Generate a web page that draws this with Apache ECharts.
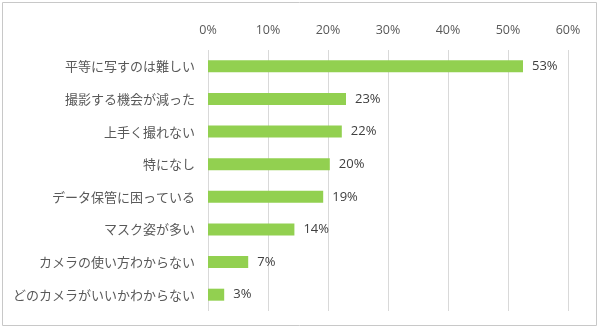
<!DOCTYPE html>
<html><head><meta charset="utf-8">
<script src="https://cdn.jsdelivr.net/npm/echarts@6/dist/echarts.min.js"></script>
<style>html,body{margin:0;padding:0;background:#fff}#c{width:600px;height:330px}</style>
</head><body><div id="c"></div>
<script>
const categories = ['平等に写すのは難しい','撮影する機会が減った','上手く撮れない','特になし','データ保管に困っている','マスク姿が多い','カメラの使い方わからない','どのカメラがいいかわからない'];
const values = [52.5, 23.0, 22.3, 20.3, 19.2, 14.4, 6.7, 2.7];
const tickLabels = ['0%','10%','20%','30%','40%','50%','60%'];

const chart = echarts.init(document.getElementById('c'));
chart.setOption({
  animation: false,
  graphic: [{type:'rect', shape:{x:2.5,y:2.5,width:594,height:323}, style:{fill:'none',stroke:'#c8c8c8',lineWidth:1}, silent:true}],
  grid: {left: 208, right: 32, top: 50, bottom: 19, containLabel: false},
  xAxis: {
    type: 'value', position: 'top', min: 0, max: 60, interval: 10,
    axisLine: {show:false}, axisTick: {show:false},
    axisLabel: {formatter: (v) => tickLabels[v/10], color:'#595959', fontSize: 12.5, fontFamily:'Open Sans', margin: 13},
    splitLine: {lineStyle: {color: '#d9d9d9'}}
  },
  yAxis: {
    type: 'category', data: categories, inverse: true,
    axisLine: {show:false}, axisTick: {show:false},
    axisLabel: {color:'#595959', fontSize: 13, fontFamily:'Noto Sans CJK JP', margin: 13}
  },
  series: [{
    type: 'bar', data: values, barWidth: 12,
    itemStyle: {color: '#92d050'},
    label: {show: true, position: 'right', distance: 9, formatter: (p) => Math.round(p.value) + '%', color:'#404040', fontSize: 13, fontFamily:'Open Sans'}
  }]
});
</script></body></html>
